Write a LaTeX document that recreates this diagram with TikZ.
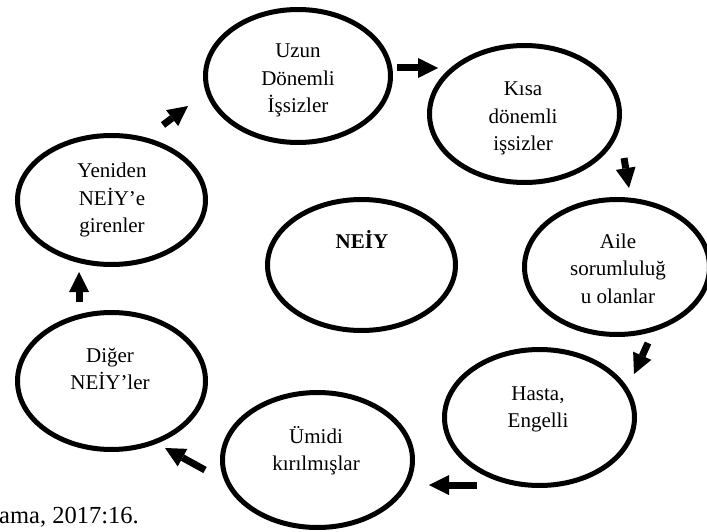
\documentclass[tikz,border=0pt]{standalone}
\usepackage{fontspec}
\setmainfont{Liberation Serif}
\usetikzlibrary{shapes.geometric,arrows.meta}
\newcommand\celltxt[1]{\begin{tabular}[t]{@{}c@{}}#1\end{tabular}}
\tikzset{
  ell/.style={draw, ellipse, line width=5pt, inner sep=0pt},
  txt/.style={inner sep=0pt, anchor=base, font=\fontsize{21}{27.5}\selectfont},
  captxt/.style={inner sep=0pt, anchor=base west, font=\fontsize{24.5}{29}\selectfont},
  blockarrow/.style={line width=7pt, -{Triangle[length=20pt,width=20pt,line width=0pt]}}
}
\begin{document}
\begin{tikzpicture}[x=1pt,y=-1pt]
\useasboundingbox (0,0) rectangle (707,532);
% ellipses
\node[ell, minimum width=185pt, minimum height=133pt] (uzun) at (298,76) {};
\node[ell, minimum width=190pt, minimum height=137pt] (kisa) at (524.5,114) {};
\node[ell, minimum width=188pt, minimum height=129pt] (yeni) at (111.5,200) {};
\node[ell, minimum width=188pt, minimum height=131pt] (neiy) at (361.5,265) {};
\node[ell, minimum width=185pt, minimum height=135pt] (aile) at (617,267) {};
\node[ell, minimum width=190pt, minimum height=136pt] (hasta) at (539.5,417.5) {};
\node[ell, minimum width=190pt, minimum height=135pt] (umidi) at (317.5,460) {};
\node[ell, minimum width=188pt, minimum height=137pt] (diger) at (111.5,381) {};
% texts
\node[txt] (uzun-t) at (298,58) {\celltxt{Uzun\\Dönemli\\İşsizler}};
\node[txt] (kisa-t) at (523,96) {\celltxt{Kısa\\dönemli\\işsizler}};
\node[txt] (yeni-t) at (112,178) {\celltxt{Yeniden\\NEİY’e\\girenler}};
\node[txt, font=\fontsize{21}{27.5}\selectfont\bfseries] (neiy-t) at (362,248) {NEİY};
\node[txt] (aile-t) at (618,248) {\celltxt{Aile\\sorumluluğ\\u olanlar}};
\node[txt] (hasta-t) at (538,400) {\celltxt{Hasta,\\Engelli}};
\node[txt] (umidi-t) at (316,443) {\celltxt{Ümidi\\kırılmışlar}};
\node[txt] (diger-t) at (110,362) {\celltxt{Diğer\\NEİY’ler}};
\node[captxt] (caption) at (-1,523) {ama, 2017:16.};
% arrow end points
\coordinate (a1s) at (163,125); \coordinate (a1e) at (188,106);
\coordinate (a2s) at (397,68);  \coordinate (a2e) at (438,68);
\coordinate (a3s) at (624,158); \coordinate (a3e) at (629,188);
\coordinate (a4s) at (648,343); \coordinate (a4e) at (634,374);
\coordinate (a5s) at (477,485); \coordinate (a5e) at (429,485);
\coordinate (a6s) at (205,470); \coordinate (a6e) at (165,448);
\coordinate (a7s) at (79,302);  \coordinate (a7e) at (79,272);
\draw[blockarrow] (a1s) -- (a1e);
\draw[blockarrow] (a2s) -- (a2e);
\draw[blockarrow] (a3s) -- (a3e);
\draw[blockarrow] (a4s) -- (a4e);
\draw[blockarrow] (a5s) -- (a5e);
\draw[blockarrow] (a6s) -- (a6e);
\draw[blockarrow] (a7s) -- (a7e);
\end{tikzpicture}
\end{document}
